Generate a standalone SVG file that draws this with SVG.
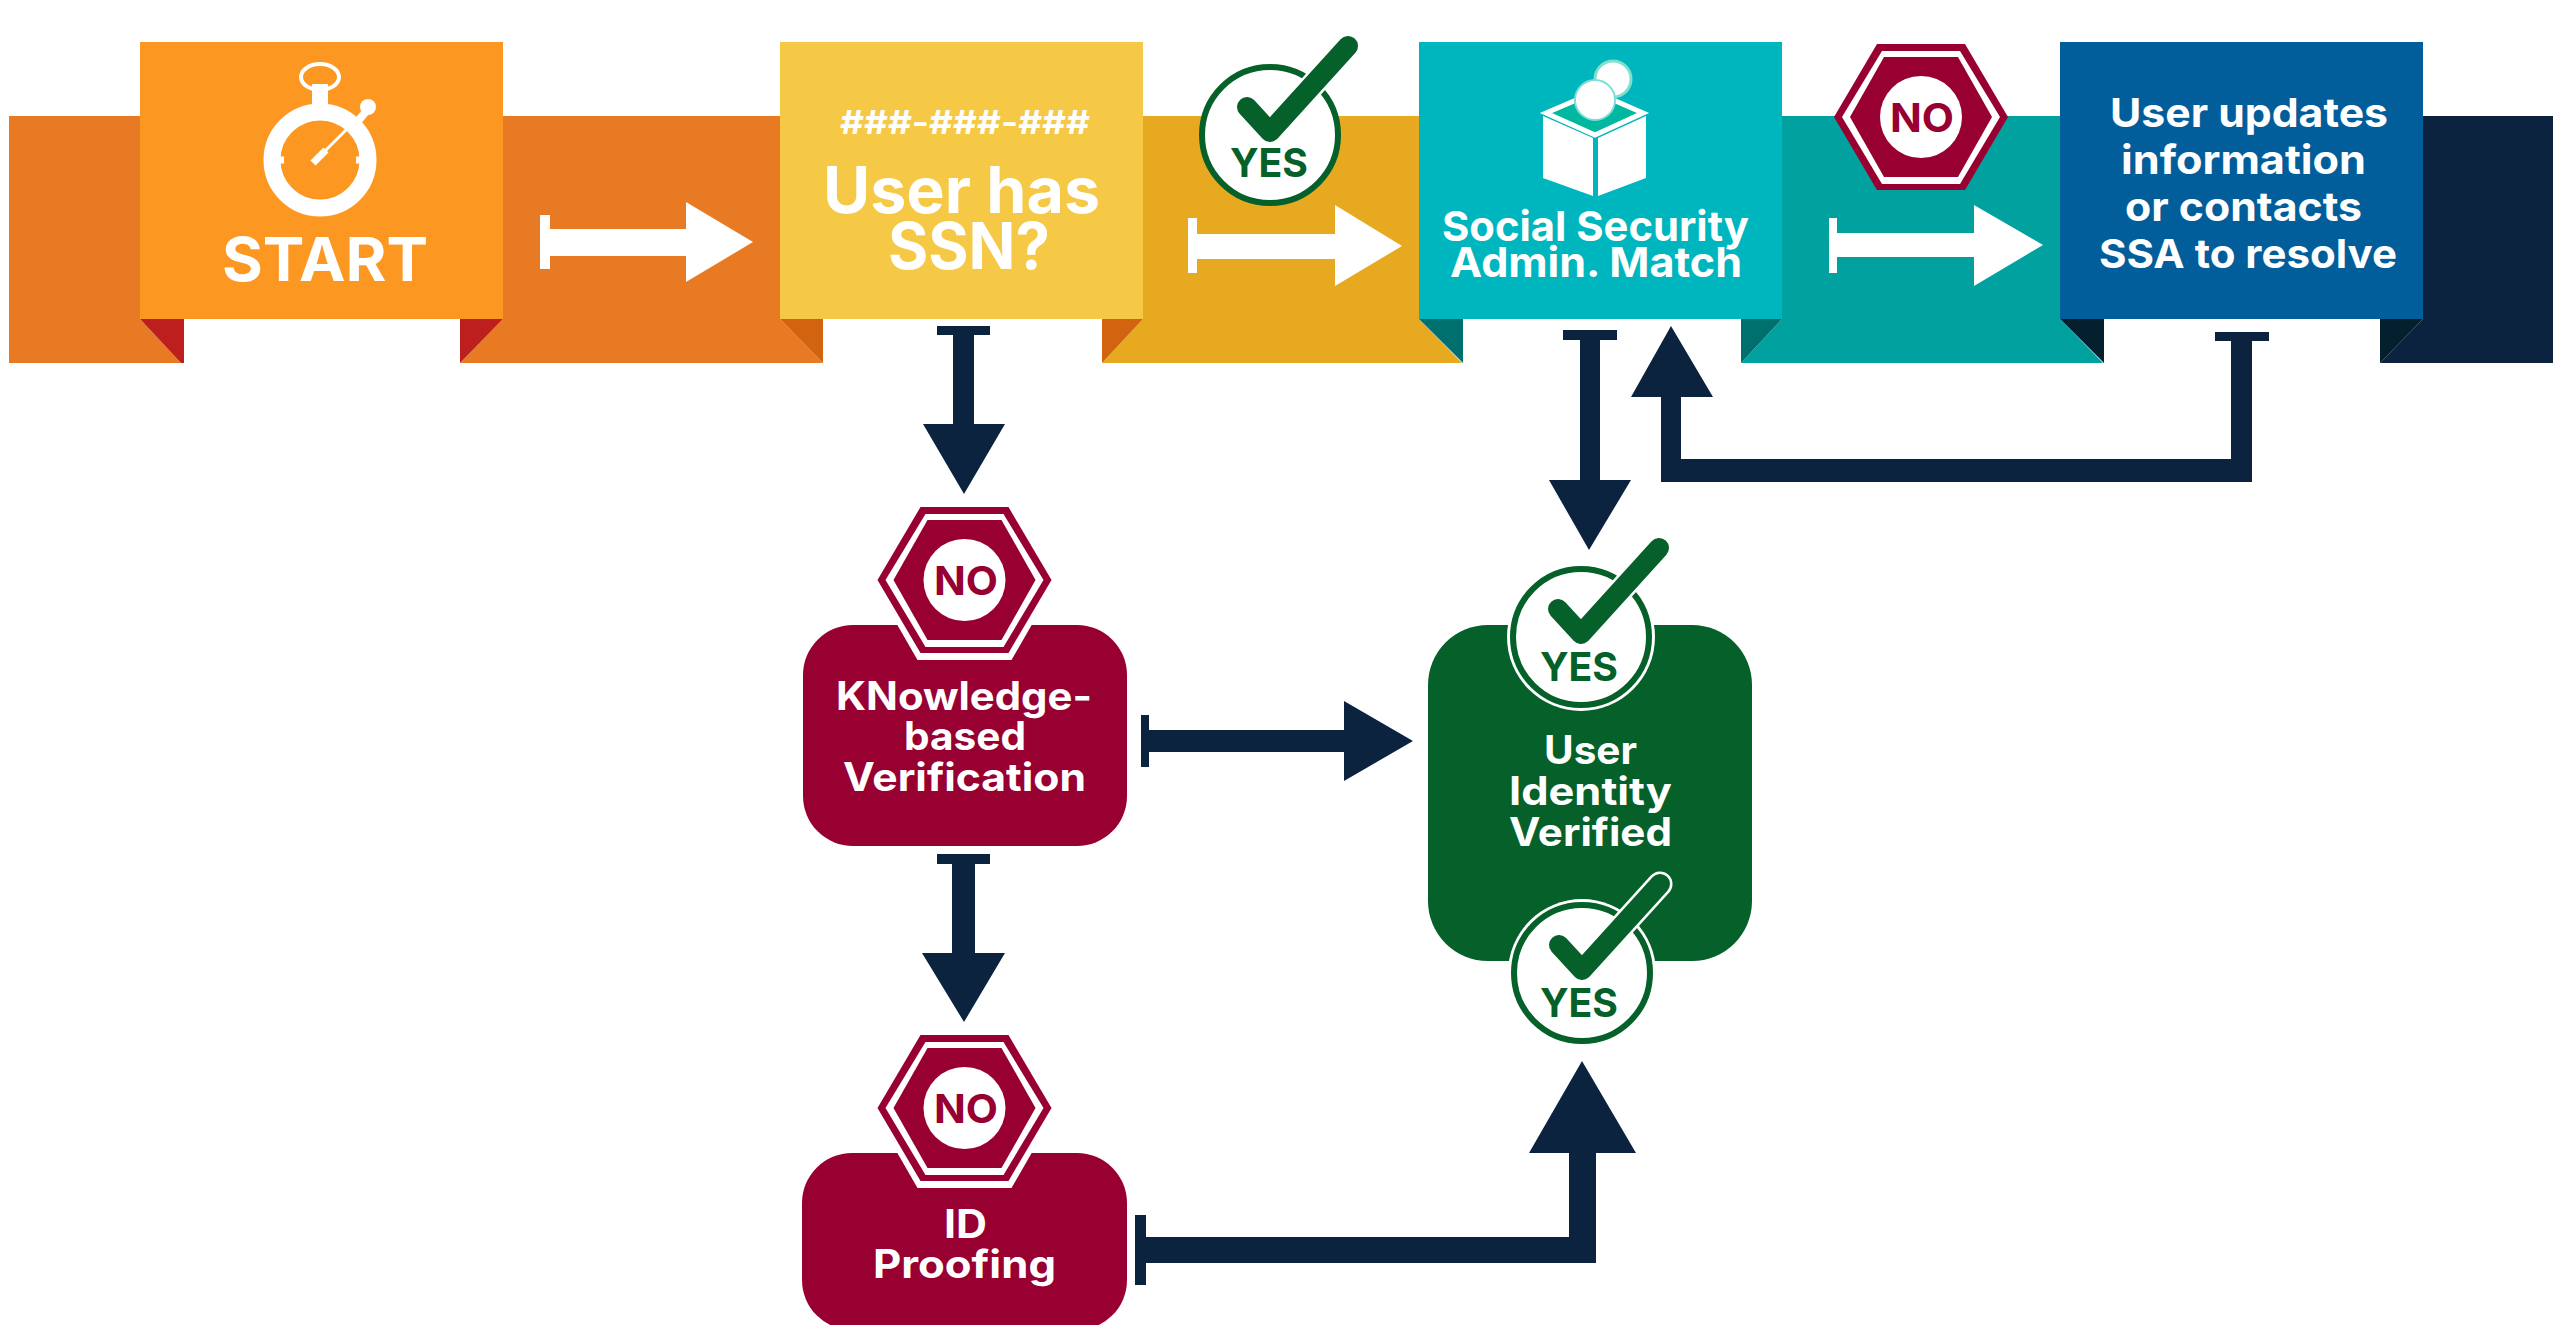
<svg xmlns="http://www.w3.org/2000/svg" xmlns:xlink="http://www.w3.org/1999/xlink" width="2560" height="1325" viewBox="0 0 2560 1325">
<style>
text{font-family:"Inter","Open Sans","Liberation Sans",sans-serif;font-weight:700;text-anchor:start}
.w{fill:#fff}.n{fill:#0c2340}.m{fill:#990032}.g{fill:#056029}
.gt{fill:#056029}.mt{fill:#990032}
.ck{fill:none;stroke:#056029;stroke-width:20;stroke-linecap:round;stroke-linejoin:round}
.ckh{fill:none;stroke:#fff;stroke-width:25;stroke-linecap:round;stroke-linejoin:round}
</style>
<defs>
<g id="hex">
<polygon class="m" points="-44,-73 44,-73 87,0 44,73 -44,73 -87,0"/>
<polygon class="w" points="-39,-66 39,-66 79,0 39,67 -39,67 -79,0"/>
<polygon class="m" points="-37,-60 37,-60 71,0 37,60 -37,60 -71,0"/>
<circle class="w" r="41"/>
</g>
<g id="yes">
<circle r="68" fill="#fff" stroke="#056029" stroke-width="6"/>
<path class="ckh" d="M-23,-28 L0,-3 L78,-89"/>
<path class="ck" d="M-23,-28 L0,-3 L78,-89"/>
</g>
</defs>
<rect width="2560" height="1325" fill="#fff"/>

<g id="ribbon">
<polygon fill="#e87a24" points="9,116 140,116 140,319 181,363 9,363"/>
<polygon fill="#bd1e1e" points="140,319 184,319 184,363 181,363"/>
<polygon fill="#e87a24" points="503,116 780,116 780,319 823,363 460,363 503,319"/>
<polygon fill="#bd1e1e" points="460,319 503,319 460,363"/>
<polygon fill="#d2640f" points="780,319 823,319 823,363"/>
<polygon fill="#e7a91f" points="1143,116 1419,116 1419,319 1462,363 1102,363 1143,319"/>
<polygon fill="#d2640f" points="1102,319 1143,319 1102,363"/>
<polygon fill="#00706f" points="1419,319 1463,319 1463,363"/>
<polygon fill="#00a19f" points="1782,116 2060,116 2060,319 2103,363 1741,363 1782,319"/>
<polygon fill="#00706f" points="1741,319 1782,319 1741,363"/>
<polygon fill="#04202e" points="2060,319 2104,319 2104,363"/>
<polygon fill="#0c2340" points="2423,116 2553,116 2553,363 2380,363 2423,319"/>
<polygon fill="#04202e" points="2380,319 2423,319 2380,363"/>
</g>

<g id="connectors">
<path class="w" d="M540,215H550V229H686V202L753,242L686,282V256H550V269H540Z"/>
<path class="w" d="M1188,218H1197V234H1335V205L1402,246L1335,286V259H1197V273H1188Z"/>
<path class="w" d="M1829,218H1837V233H1974V205L2043,245L1974,286V257H1837V273H1829Z"/>
<path class="n" d="M937,326H990V335H974V424H1005L964,494L923,424H953V335H937Z"/>
<path class="n" d="M1563,330H1617V340H1600V480H1631L1589,550L1549,480H1580V340H1563Z"/>
<path class="n" d="M2215,332H2269V341H2252V482H1661V397H1631L1671,326L1713,397H1681V459H2231V341H2215Z"/>
<path class="n" d="M1141,715H1149V730H1344V701L1413,741L1344,781V752H1149V767H1141Z"/>
<path class="n" d="M937,854H990V864H975V953H1005L964,1022L922,953H952V864H937Z"/>
<path class="n" d="M1135,1215H1146V1237H1569V1153H1529L1582,1061L1636,1153H1596V1263H1146V1285H1135Z"/>
</g>

<g id="start">
<rect x="140" y="42" width="363" height="277" fill="#fc9722"/>
<g fill="none" stroke="#fff">
<circle cx="320" cy="160" r="48" stroke-width="17"/>
<ellipse cx="320" cy="77" rx="19" ry="13" stroke-width="4"/>
<path d="M320,84V110" stroke-width="16"/>
<path d="M358,121L369,108" stroke-width="8"/>
<path d="M320,110V119M320,200V212M270,160H284M356,160H368" stroke-width="7"/>
<path d="M314,162L347,129" stroke-width="3"/>
<path d="M313,163L326,150" stroke-width="7"/>
</g>
<circle cx="368" cy="107" r="8" class="w"/>
<text class="w" x="222" y="281" font-size="61" textLength="206" lengthAdjust="spacingAndGlyphs">START</text>
</g>

<g id="ssn">
<rect x="780" y="42" width="363" height="277" fill="#f5c945"/>
<text class="w" x="840" y="134" font-size="33" textLength="250" lengthAdjust="spacingAndGlyphs">###-###-###</text>
<text class="w" x="823" y="213" font-size="64" textLength="277" lengthAdjust="spacingAndGlyphs">User has</text>
<text class="w" x="888" y="269" font-size="64" textLength="162" lengthAdjust="spacingAndGlyphs">SSN?</text>
</g>

<g id="yes-badge-top"><use xlink:href="#yes" href="#yes" x="1270" y="135"/>
<text class="gt" x="1230" y="177" font-size="40" textLength="78" lengthAdjust="spacingAndGlyphs">YES</text></g>

<g id="ssa">
<rect x="1419" y="42" width="363" height="277" fill="#00b6be"/>
<circle cx="1613" cy="79" r="18" class="w" stroke="#7fe0cc" stroke-width="3"/>
<polygon fill="#00b89f" stroke="#fff" stroke-width="5" points="1546,113 1595,92 1643,113 1595,135"/>
<polygon class="w" points="1543,116 1593,138 1593,196 1543,178"/>
<polygon class="w" points="1646,116 1598,138 1598,196 1646,178"/>
<circle cx="1595" cy="100" r="20" class="w" stroke="#7fdcd8" stroke-width="2"/>
<text class="w" x="1442" y="241" font-size="41" textLength="307" lengthAdjust="spacingAndGlyphs">Social Security</text>
<text class="w" x="1450" y="277" font-size="41" textLength="292" lengthAdjust="spacingAndGlyphs">Admin. Match</text>
</g>

<g id="no-badge-top"><use xlink:href="#hex" href="#hex" x="1921" y="117"/>
<text class="mt" x="1890" y="132" font-size="40" textLength="64" lengthAdjust="spacingAndGlyphs">NO</text></g>

<g id="update">
<rect x="2060" y="42" width="363" height="277" fill="#025e9a"/>
<text class="w" x="2110" y="127" font-size="40" textLength="278" lengthAdjust="spacingAndGlyphs">User updates</text>
<text class="w" x="2121" y="174" font-size="40" textLength="245" lengthAdjust="spacingAndGlyphs">information</text>
<text class="w" x="2125" y="221" font-size="40" textLength="237" lengthAdjust="spacingAndGlyphs">or contacts</text>
<text class="w" x="2099" y="268" font-size="40" textLength="298" lengthAdjust="spacingAndGlyphs">SSA to resolve</text>
</g>

<g id="kbv">
<rect class="m" x="803" y="625" width="324" height="221" rx="50"/>
<polygon class="w" points="-47,-80 47,-80 93,0 47,80 -47,80 -93,0" transform="translate(964.5 580)"/>
<use xlink:href="#hex" href="#hex" x="964.5" y="580"/>
<text class="mt" x="934" y="595" font-size="40" textLength="64" lengthAdjust="spacingAndGlyphs">NO</text>
<text class="w" x="836" y="710" font-size="39" textLength="256" lengthAdjust="spacingAndGlyphs">KNowledge-</text>
<text class="w" x="904" y="750" font-size="39" textLength="122" lengthAdjust="spacingAndGlyphs">based</text>
<text class="w" x="843" y="791" font-size="39" textLength="243" lengthAdjust="spacingAndGlyphs">Verification</text>
</g>

<g id="idp">
<rect class="m" x="802" y="1153" width="325" height="177" rx="50"/>
<polygon class="w" points="-47,-80 47,-80 93,0 47,80 -47,80 -93,0" transform="translate(964.5 1108)"/>
<use xlink:href="#hex" href="#hex" x="964.5" y="1108"/>
<text class="mt" x="934" y="1123" font-size="40" textLength="64" lengthAdjust="spacingAndGlyphs">NO</text>
<text class="w" x="944" y="1238" font-size="39" textLength="43" lengthAdjust="spacingAndGlyphs">ID</text>
<text class="w" x="873" y="1278" font-size="39" textLength="183" lengthAdjust="spacingAndGlyphs">Proofing</text>
</g>

<g id="verified">
<rect class="g" x="1428" y="625" width="324" height="336" rx="60"/>
<circle cx="1581" cy="637" r="74" class="w"/>
<use xlink:href="#yes" href="#yes" x="1581" y="637"/>
<text class="gt" x="1540" y="681" font-size="40" textLength="78" lengthAdjust="spacingAndGlyphs">YES</text>
<circle cx="1582" cy="973" r="74" class="w"/>
<use xlink:href="#yes" href="#yes" x="1582" y="973"/>
<text class="gt" x="1540" y="1017" font-size="40" textLength="78" lengthAdjust="spacingAndGlyphs">YES</text>
<text class="w" x="1544" y="764" font-size="39" textLength="93" lengthAdjust="spacingAndGlyphs">User</text>
<text class="w" x="1509" y="805" font-size="39" textLength="163" lengthAdjust="spacingAndGlyphs">Identity</text>
<text class="w" x="1509" y="846" font-size="39" textLength="163" lengthAdjust="spacingAndGlyphs">Verified</text>
</g>
</svg>
